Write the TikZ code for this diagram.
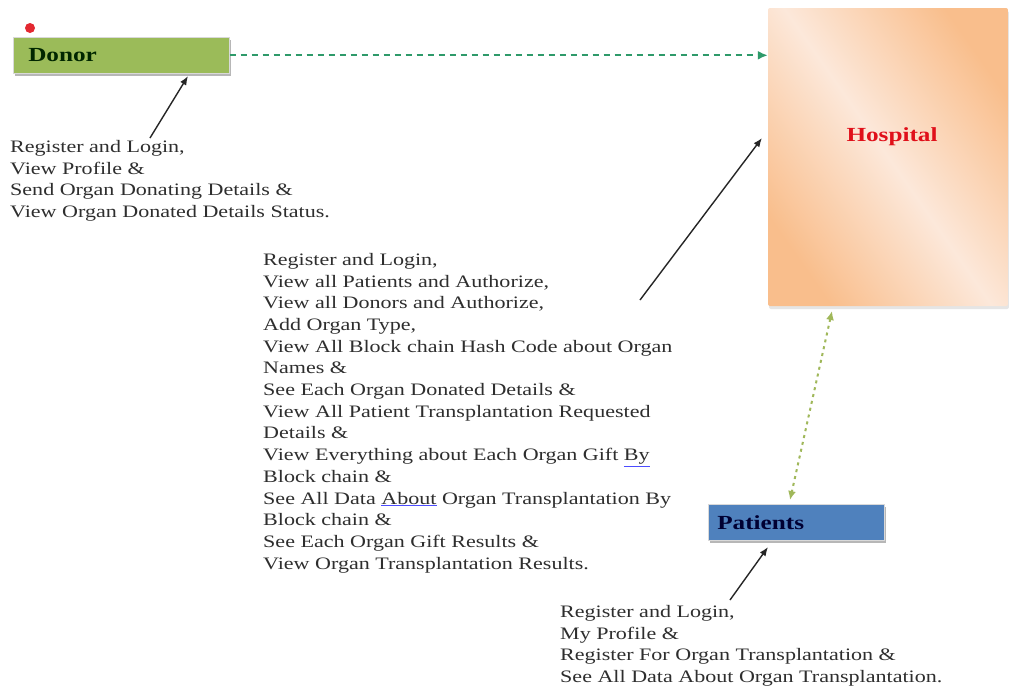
\documentclass[tikz,border=0pt]{standalone}
\usepackage{fontspec}
\setmainfont{Liberation Serif}[FakeStretch=1.26]
\usetikzlibrary{arrows.meta,shadows,calc}
\definecolor{donorgreen}{HTML}{9BBB59}
\definecolor{patblue}{HTML}{4F81BD}
\definecolor{orangeedge}{HTML}{F9BE8C}
\definecolor{orangemid}{HTML}{FCE8DA}
\definecolor{hosred}{HTML}{E0101A}
\definecolor{dashgreen}{HTML}{2E9A6A}
\definecolor{dotgreen}{HTML}{A0B85A}
\definecolor{txtgray}{HTML}{2E2E2E}
\newcommand\spellline[1]{\textcolor{blue!70}{\underline{\textcolor{txtgray}{#1}}}}
\tikzset{
  actor/.style={draw=white!85!black, line width=0.6pt, minimum height=36pt, anchor=north west,
    inner sep=0pt, text width=#1, align=left,
    font=\fontsize{20}{24}\selectfont\bfseries,
    drop shadow={shadow xshift=2pt, shadow yshift=-3pt, fill=black!35, opacity=0.8}},
  desc/.style={anchor=north west, inner sep=0pt, align=left, text=txtgray,
    font=\fontsize{17.5}{21.7}\selectfont},
  blackarrow/.style={-{Latex[length=9pt,width=7pt]}, line width=1.4pt, black!85},
}
\begin{document}
\begin{tikzpicture}[x=1pt,y=-1pt]
\useasboundingbox (0,0) rectangle (1009,689);
\fill[white] (0,0) rectangle (1009,689);

% Hospital
\shade[rounded corners=2pt, left color=orangeedge, right color=orangeedge, middle color=orangemid, shading angle=-55,
  drop shadow={shadow xshift=1pt, shadow yshift=-3pt, fill=black!20}]
  (768,8) rectangle (1008,306);
\node[minimum width=240pt, minimum height=298pt, inner sep=0pt] (hosp) at (888,157) {};
\node[text=hosred, font=\fontsize{20}{24}\selectfont\bfseries] (hosplabel) at (892,137) {Hospital};

% Donor
\node[actor=196pt, fill=donorgreen, text=black!85!green, minimum width=216pt, text depth=0pt] (donor) at (13,37)
  {\hspace*{5pt}Donor};
\fill[hosred!90] (30,28) circle (5);

% Patients
\node[actor=166pt, fill=patblue, text=black!80!blue, minimum width=176pt] (pat) at (708,504)
  {\hspace*{4pt}Patients};

% Texts
\node[desc] (dtext) at (10,140) {Register and Login,\\View Profile \&\\Send Organ Donating Details \&\\View Organ Donated Details Status.};
\node[desc] (atext) at (263,253) {Register and Login,\\View all Patients and Authorize,\\View all Donors and Authorize,\\Add Organ Type,\\View All Block chain Hash Code about Organ\\Names \&\\See Each Organ Donated Details \&\\View All Patient Transplantation Requested\\Details \&\\View Everything about Each Organ Gift \spellline{By}\\Block chain \&\\See All Data \spellline{About} Organ Transplantation By\\Block chain \&\\See Each Organ Gift Results \&\\View Organ Transplantation Results.};
\node[desc] (ptext) at (560,605) {Register and Login,\\My Profile \&\\Register For Organ Transplantation \&\\See All Data About Organ Transplantation.};

% Connectors
\coordinate (d1) at (150,138);
\coordinate (d2) at (188,76);
\coordinate (a1) at (640,300);
\coordinate (a2) at (762,138);
\coordinate (p1) at (730,600);
\coordinate (p2) at (768,547);
\coordinate (h1) at (832,311);
\coordinate (h2) at (790,500);

\draw[dashgreen, line width=2.2pt, dash pattern=on 6pt off 5pt,
  -{Latex[length=10pt,width=9pt]}] (donor.east) -- (donor.east -| hosp.west);
\draw[blackarrow] (d1) -- (d2);
\draw[blackarrow] (a1) -- (a2);
\draw[blackarrow] (p1) -- (p2);
\draw[dotgreen, line width=2pt, dash pattern=on 3pt off 4pt,
  {Latex[length=9pt,width=8pt]}-{Latex[length=9pt,width=8pt]}] (h1) -- (h2);
\end{tikzpicture}
\end{document}
